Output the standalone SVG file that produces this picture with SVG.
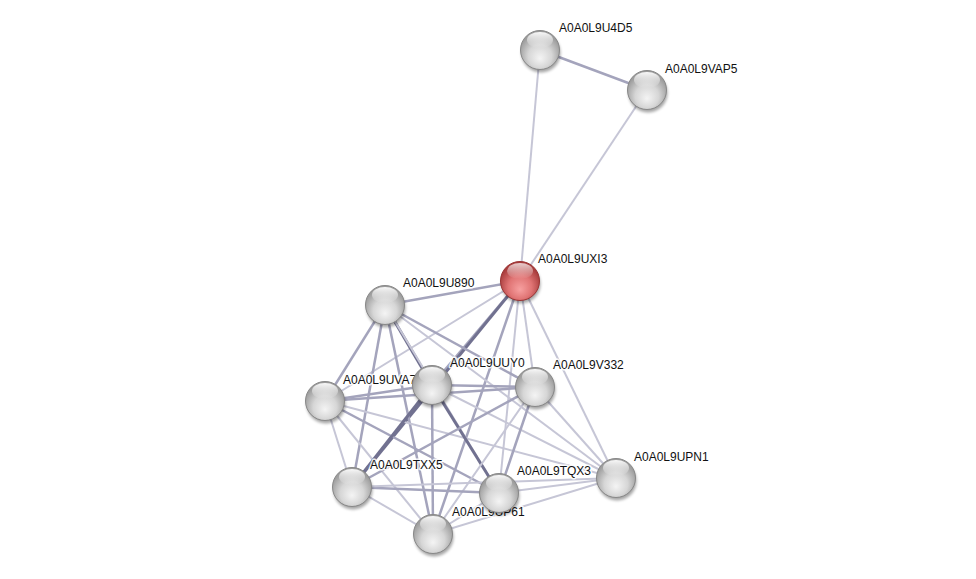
<svg xmlns="http://www.w3.org/2000/svg" width="976" height="579" viewBox="0 0 976 579">
<defs>
  <radialGradient id="gGray" cx="50%" cy="62%" r="55%" fx="50%" fy="72%">
    <stop offset="0" stop-color="#f4f4f4"/>
    <stop offset="0.55" stop-color="#d6d6d6"/>
    <stop offset="1" stop-color="#9c9c9c"/>
  </radialGradient>
  <radialGradient id="gRed" cx="50%" cy="62%" r="55%" fx="50%" fy="72%">
    <stop offset="0" stop-color="#f7a0a0"/>
    <stop offset="0.55" stop-color="#e07474"/>
    <stop offset="1" stop-color="#a83c3c"/>
  </radialGradient>
  <linearGradient id="gHi" x1="0" y1="0" x2="0" y2="1">
    <stop offset="0" stop-color="#ffffff" stop-opacity="0.95"/>
    <stop offset="1" stop-color="#ffffff" stop-opacity="0"/>
  </linearGradient>
  <filter id="sh" x="-50%" y="-50%" width="200%" height="200%">
    <feGaussianBlur stdDeviation="1.5"/>
  </filter>
  <g id="sphere">
    <circle cx="1" cy="3" r="19.5" fill="#000" opacity="0.35" filter="url(#sh)"/>
    <circle r="19.5" fill="url(#gGray)" stroke="#888888" stroke-width="1"/>
    <ellipse cx="0" cy="-10" rx="13" ry="8" fill="url(#gHi)"/>
  </g>
  <g id="sphereRed">
    <circle cx="1" cy="3" r="19.5" fill="#000" opacity="0.35" filter="url(#sh)"/>
    <circle r="19.5" fill="url(#gRed)" stroke="#9a3434" stroke-width="1"/>
    <ellipse cx="0" cy="-10" rx="13" ry="8" fill="url(#gHi)" opacity="0.8"/>
  </g>
</defs>
<style>
  .lbl { font-family: "Liberation Sans", Arial, sans-serif; font-size: 12px; fill: #111; stroke: #ffffff; stroke-width: 3px; stroke-opacity: 0.85; paint-order: stroke; stroke-linejoin: round; }
  .e1 { stroke: #c6c6d6; stroke-width: 2; fill: none; }
  .e2 { stroke: #a4a4bc; stroke-width: 2.5; fill: none; }
  .e3 { stroke: #717190; stroke-width: 3; fill: none; }
</style>
<rect width="976" height="579" fill="#ffffff"/>
<g id="connectors">
  <line class="e2" x1="540" y1="50" x2="647" y2="90"/>
  <line class="e1" x1="540" y1="50" x2="520" y2="281"/>
  <line class="e1" x1="647" y1="90" x2="520" y2="281"/>
  <line class="e2" x1="520" y1="281" x2="385" y2="305"/>
  <line class="e1" x1="520" y1="281" x2="325" y2="401"/>
  <line class="e2" x1="520" y1="281" x2="432" y2="385"/>
  <line class="e3" x1="520" y1="281" x2="352" y2="487"/>
  <line class="e2" x1="520" y1="281" x2="433" y2="534"/>
  <line class="e1" x1="520" y1="281" x2="499" y2="493"/>
  <line class="e1" x1="520" y1="281" x2="535" y2="387"/>
  <line class="e1" x1="520" y1="281" x2="616" y2="478"/>
  <line class="e2" x1="385" y1="305" x2="325" y2="401"/>
  <line class="e3" x1="385" y1="305" x2="432" y2="385"/>
  <line class="e2" x1="385" y1="305" x2="352" y2="487"/>
  <line class="e2" x1="385" y1="305" x2="433" y2="534"/>
  <line class="e2" x1="385" y1="305" x2="535" y2="387"/>
  <line class="e1" x1="385" y1="305" x2="499" y2="493"/>
  <line class="e1" x1="385" y1="305" x2="616" y2="478"/>
  <line class="e2" x1="325" y1="401" x2="432" y2="385"/>
  <line class="e2" x1="325" y1="401" x2="535" y2="387"/>
  <line class="e1" x1="325" y1="401" x2="352" y2="487"/>
  <line class="e1" x1="325" y1="401" x2="433" y2="534"/>
  <line class="e2" x1="325" y1="401" x2="499" y2="493"/>
  <line class="e1" x1="325" y1="401" x2="616" y2="478"/>
  <line class="e2" x1="432" y1="385" x2="535" y2="387"/>
  <line class="e3" x1="432" y1="385" x2="352" y2="487"/>
  <line class="e2" x1="432" y1="385" x2="433" y2="534"/>
  <line class="e3" x1="432" y1="385" x2="499" y2="493"/>
  <line class="e1" x1="432" y1="385" x2="616" y2="478"/>
  <line class="e2" x1="535" y1="387" x2="352" y2="487"/>
  <line class="e1" x1="535" y1="387" x2="433" y2="534"/>
  <line class="e2" x1="535" y1="387" x2="499" y2="493"/>
  <line class="e1" x1="535" y1="387" x2="616" y2="478"/>
  <line class="e2" x1="352" y1="487" x2="499" y2="493"/>
  <line class="e1" x1="352" y1="487" x2="433" y2="534"/>
  <line class="e1" x1="352" y1="487" x2="616" y2="478"/>
  <line class="e1" x1="499" y1="493" x2="433" y2="534"/>
  <line class="e1" x1="499" y1="493" x2="616" y2="478"/>
  <line class="e1" x1="433" y1="534" x2="616" y2="478"/>
</g>
<g id="node-U4D5">
  <text class="lbl" x="559" y="32">A0A0L9U4D5</text>
  <use href="#sphere" x="540" y="50"/>
</g>
<g id="node-VAP5">
  <text class="lbl" x="665" y="73">A0A0L9VAP5</text>
  <use href="#sphere" x="647" y="90"/>
</g>
<g id="node-UXI3">
  <text class="lbl" x="538" y="263">A0A0L9UXI3</text>
  <use href="#sphereRed" x="520" y="281"/>
</g>
<g id="node-U890">
  <text class="lbl" x="403" y="287">A0A0L9U890</text>
  <use href="#sphere" x="385" y="305"/>
</g>
<g id="node-UVA7">
  <text class="lbl" x="343" y="384">A0A0L9UVA7</text>
  <use href="#sphere" x="325" y="401"/>
</g>
<g id="node-UUY0">
  <text class="lbl" x="450" y="367">A0A0L9UUY0</text>
  <use href="#sphere" x="432" y="385"/>
</g>
<g id="node-V332">
  <text class="lbl" x="553" y="369">A0A0L9V332</text>
  <use href="#sphere" x="535" y="387"/>
</g>
<g id="node-UPN1">
  <text class="lbl" x="634" y="461">A0A0L9UPN1</text>
  <use href="#sphere" x="616" y="478"/>
</g>
<g id="node-TXX5">
  <text class="lbl" x="370" y="469">A0A0L9TXX5</text>
  <use href="#sphere" x="352" y="487"/>
</g>
<g id="node-P61">
  <text class="lbl" x="452" y="516">A0A0L9UP61</text>
  <use href="#sphere" x="433" y="534"/>
</g>
<g id="node-TQX3">
  <text class="lbl" x="517" y="475">A0A0L9TQX3</text>
  <use href="#sphere" x="499" y="493"/>
</g>
</svg>
